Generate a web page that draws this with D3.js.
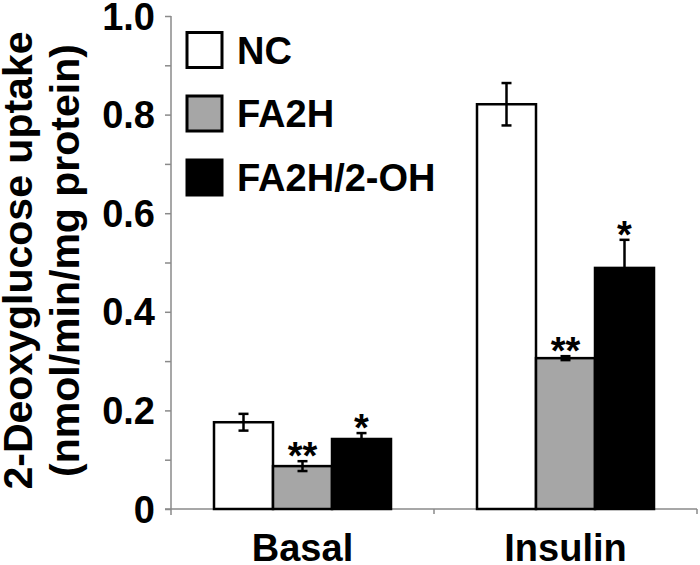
<!DOCTYPE html>
<html>
<head>
<meta charset="utf-8">
<script src="https://cdn.jsdelivr.net/npm/d3@7"></script>
<style>
  html, body { margin: 0; padding: 0; background: #fff; }
  text { font-family: "Liberation Sans", Arial, sans-serif; font-weight: bold; fill: #000; }
</style>
</head>
<body>
<svg id="chart" width="700" height="565"></svg>
<script>
const categories = ["Basal", "Insulin"];
const seriesNames = ["NC", "FA2H", "FA2H/2-OH"];
const seriesColors = ["#ffffff", "#a6a6a6", "#000000"];
const valuesNC = [0.176, 0.821];
const valuesFA2H = [0.087, 0.306];
const valuesFA2H2OH = [0.142, 0.489];
const errorsNC = [0.017, 0.043];
const errorsFA2H = [0.010, 0.004];
const errorsFA2H2OH = [0.012, 0.057];
const significance = [["", "**", "*"], ["", "**", "*"]];
const yTickValues = [0, 0.1, 0.2, 0.3, 0.4, 0.5, 0.6, 0.7, 0.8, 0.9, 1.0];
const yTickLabels = ["0", "", "0.2", "", "0.4", "", "0.6", "", "0.8", "", "1.0"];
const yTitleLines = ["2-Deoxyglucose uptake", "(nmol/min/mg protein)"];

const values = [valuesNC, valuesFA2H, valuesFA2H2OH];
const errors = [errorsNC, errorsFA2H, errorsFA2H2OH];

const svg = d3.select("#chart");
const axisColor = "#8a8a8a";
const plotLeft = 171, plotRight = 697, plotTop = 16, plotBottom = 509;

const y = d3.scaleLinear().domain([0, 1.0]).range([plotBottom, plotTop]);
const x0 = d3.scaleBand().domain(categories).range([plotLeft, plotRight]).paddingInner(0).paddingOuter(0);
const innerPad = 43;
const x1 = d3.scaleBand().domain(seriesNames)
  .range([innerPad, x0.bandwidth() - innerPad]).padding(0);

// Y axis
const yAxis = d3.axisLeft(y).tickValues(yTickValues).tickSize(6).tickFormat("");
const gy = svg.append("g").attr("transform", `translate(${plotLeft},0)`).call(yAxis);
gy.select(".domain").remove();
gy.selectAll(".tick line").attr("stroke", axisColor).attr("stroke-width", 1.5);
svg.append("line").attr("x1", plotLeft).attr("x2", plotLeft).attr("y1", plotTop).attr("y2", plotBottom + 6)
  .attr("stroke", axisColor).attr("stroke-width", 1.5);

// Y tick labels
svg.append("g").selectAll("text").data(yTickValues).join("text")
  .attr("x", 155).attr("y", d => y(d) + 13.6)
  .attr("text-anchor", "end").attr("font-size", 38)
  .text((d, i) => yTickLabels[i]);

// X axis line + category separators
svg.append("line").attr("x1", plotLeft - 6).attr("x2", plotRight).attr("y1", plotBottom).attr("y2", plotBottom)
  .attr("stroke", axisColor).attr("stroke-width", 1.5);
const sepPos = categories.map(c => x0(c)).concat([x0(categories[categories.length - 1]) + x0.bandwidth()]);
svg.append("g").selectAll("line").data(sepPos.slice(1)).join("line")
  .attr("x1", d => d).attr("x2", d => d).attr("y1", plotBottom).attr("y2", plotBottom + 5)
  .attr("stroke", axisColor).attr("stroke-width", 1.5);

// Bars
const groups = svg.append("g").selectAll("g").data(categories).join("g")
  .attr("transform", c => `translate(${x0(c)},0)`);

groups.each(function(c, ci) {
  const g = d3.select(this);
  seriesNames.forEach((s, si) => {
    const v = values[si][ci], e = errors[si][ci];
    const bx = x1(s), bw = x1.bandwidth();
    g.append("rect")
      .attr("x", bx).attr("y", y(v)).attr("width", bw).attr("height", y(0) - y(v))
      .attr("fill", seriesColors[si]).attr("stroke", "#000").attr("stroke-width", 2.5);
    const cx = bx + bw / 2;
    const errColor = "#000";
    g.append("line").attr("x1", cx).attr("x2", cx).attr("y1", y(v + e)).attr("y2", y(v - e))
      .attr("stroke", errColor).attr("stroke-width", 2.5);
    [v + e, v - e].forEach(val => {
      g.append("line").attr("x1", cx - 5).attr("x2", cx + 5).attr("y1", y(val)).attr("y2", y(val))
        .attr("stroke", errColor).attr("stroke-width", 2.5);
    });
    const sig = significance[ci][si];
    if (sig) {
      g.append("text").attr("x", cx).attr("y", y(v + e) + 8)
        .attr("text-anchor", "middle").attr("font-size", 38).text(sig);
    }
  });
});

// X labels
svg.append("g").selectAll("text").data(categories).join("text")
  .attr("x", c => x0(c) + x0.bandwidth() / 2).attr("y", 561)
  .attr("text-anchor", "middle").attr("font-size", 38)
  .text(c => c);

// Y title
const yMid = (plotTop + plotBottom) / 2 - 2;
[32, 79].forEach((bx, i) => {
  svg.append("text")
    .attr("transform", `translate(${bx},${yMid}) rotate(-90)`)
    .attr("text-anchor", "middle").attr("font-size", 41)
    .text(yTitleLines[i]);
});

// Legend
const legendRows = [50, 113.5, 177.5];
const lg = svg.append("g");
seriesNames.forEach((s, i) => {
  const cy = legendRows[i];
  lg.append("rect").attr("x", 187).attr("y", cy - 17.5).attr("width", 35).attr("height", 35)
    .attr("fill", seriesColors[i]).attr("stroke", "#000").attr("stroke-width", 3);
  lg.append("text").attr("x", 237).attr("y", cy + 13.6).attr("font-size", 38).text(s);
});
</script>
</body>
</html>
